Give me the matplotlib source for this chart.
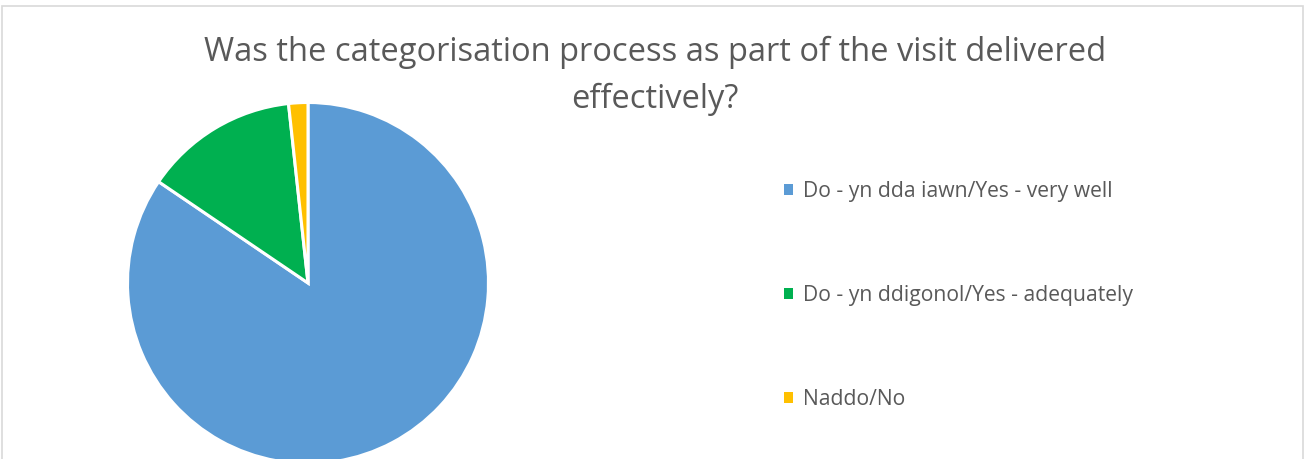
import matplotlib.pyplot as plt
from matplotlib.patches import Rectangle

# survey answers (counts)
labels = ['Do - yn dda iawn/Yes - very well',
          'Do - yn ddigonol/Yes - adequately',
          'Naddo/No']
counts = [49, 8, 1]
colors = ['#5B9BD5', '#00B050', '#FFC000']
title_lines = ['Was the categorisation process as part of the visit delivered',
               'effectively?']

W, H = 1307, 459
fig = plt.figure(figsize=(W / 100, H / 100), dpi=100)
plt.rcParams['font.family'] = ['Open Sans', 'DejaVu Sans']

# chart area frame
fig.patches.append(Rectangle((2 / W, -0.1), 1301 / W, (H - 6) / H + 0.1,
                             transform=fig.transFigure, fill=False,
                             edgecolor='#D9D9D9', linewidth=1.2))

# title, one baseline per line
for i, line in enumerate(title_lines):
    fig.text(655 / W, 1 - (61 + 47 * i) / H, line, ha='center', va='baseline',
             fontsize=23.5, color='#595959')

cx, cy, r = 308, 283, 180.5
ax = fig.add_axes([(cx - r) / W, (H - cy - r) / H, 2 * r / W, 2 * r / H])
wedges, _ = ax.pie(counts, colors=colors, startangle=90, counterclock=False,
                   radius=1, wedgeprops=dict(edgecolor='white', linewidth=2.2))
ax.set_xlim(-1, 1)
ax.set_ylim(-1, 1)
ax.set_aspect('equal')
ax.axis('off')

leg = fig.legend(wedges, labels, loc='upper left',
                 bbox_to_anchor=(769 / W, 1 - 166 / H), frameon=False,
                 fontsize=15.2, labelcolor='#595959', handlelength=0.45,
                 handleheight=0.45, handletextpad=0.45, labelspacing=3.93,
                 borderpad=0.2)
for h in leg.legend_handles:
    h.set_edgecolor('none')

fig.savefig('out.png', dpi=100)
